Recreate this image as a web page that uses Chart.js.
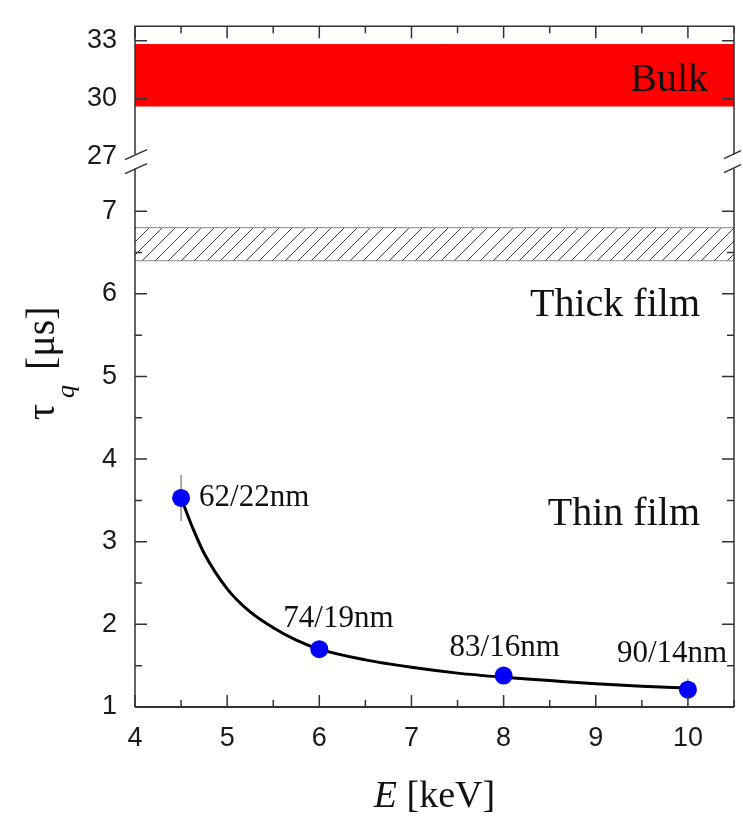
<!DOCTYPE html>
<html>
<head>
<meta charset="utf-8">
<script src="https://cdn.jsdelivr.net/npm/chart.js@4"></script>
<style>
  html, body { margin: 0; padding: 0; background: #fff; }
  #wrap { width: 743px; height: 816px; }
</style>
</head>
<body>
<div id="wrap"><canvas id="chart"></canvas></div>
<script>
// measured points (E in keV, tau_q in us)
var energy = [4.5, 6, 8, 10];
var tau = [3.53, 1.70, 1.38, 1.21];
var tauErr = [0.28, 0.04, 0.06, 0.13];
var depthLabels = ["62/22nm", "74/19nm", "83/16nm", "90/14nm"];

// fitted curve
var fitE = [4.5, 4.625, 4.75, 5, 5.25, 5.5, 5.75, 6, 6.5, 7, 7.5, 8, 8.5, 9, 9.5, 10];
var fitTau = [3.53, 3.17, 2.86, 2.43, 2.15, 1.96, 1.81, 1.70, 1.57, 1.48, 1.41, 1.36, 1.32, 1.28, 1.25, 1.23];

// reference bands
var bulkBand = [29.6, 32.8];
var thickBand = [6.4, 6.8];

var xTicks = [4, 5, 6, 7, 8, 9, 10];
var yLowTicks = [1, 2, 3, 4, 5, 6, 7];
var yHighTicks = [27, 30, 33];

var serif = "'Liberation Serif', 'Times New Roman', serif";
var sans = "'Liberation Sans', Arial, sans-serif";

function makeHatch() {
  var c = document.createElement("canvas");
  c.width = 13; c.height = 13;
  var g = c.getContext("2d");
  g.strokeStyle = "#444";
  g.lineWidth = 1;
  g.beginPath();
  g.moveTo(0, 13); g.lineTo(13, 0);
  g.moveTo(-2, 2); g.lineTo(2, -2);
  g.moveTo(11, 15); g.lineTo(15, 11);
  g.stroke();
  return g.createPattern(c, "repeat");
}

function pts(xs, ys) {
  return xs.map(function (v, i) { return { x: v, y: ys[i] }; });
}

function fixTicks(list) {
  return function (scale) {
    scale.ticks = list.map(function (v) { return { value: v }; });
  };
}

var errorBars = {
  id: "errorBars",
  beforeDatasetsDraw: function (chart) {
    var ctx = chart.ctx, x = chart.scales.x, y = chart.scales.y;
    ctx.save();
    ctx.strokeStyle = "#555";
    ctx.lineWidth = 1;
    energy.forEach(function (e, i) {
      var px = x.getPixelForValue(e);
      ctx.beginPath();
      ctx.moveTo(px, y.getPixelForValue(tau[i] + tauErr[i]));
      ctx.lineTo(px, y.getPixelForValue(tau[i] - tauErr[i]));
      ctx.stroke();
    });
    ctx.restore();
  }
};

var annotations = {
  id: "annotations",
  afterDatasetsDraw: function (chart) {
    var ctx = chart.ctx, x = chart.scales.x, y = chart.scales.y, y2 = chart.scales.y2;
    ctx.save();
    ctx.fillStyle = "#111";
    ctx.textBaseline = "alphabetic";

    // depth labels next to the points
    var off = [[18, 8], [-36, -22], [-54, -20], [-71, -28]];
    ctx.font = "31px " + serif;
    ctx.textAlign = "left";
    depthLabels.forEach(function (t, i) {
      ctx.fillText(t, x.getPixelForValue(energy[i]) + off[i][0], y.getPixelForValue(tau[i]) + off[i][1]);
    });

    // region names
    ctx.font = "40px " + serif;
    ctx.textAlign = "right";
    var rx = chart.chartArea.right - 34;
    ctx.fillText("Bulk", rx + 8, y2.getPixelForValue(30.4));
    ctx.fillText("Thick film", rx, y.getPixelForValue(5.73));
    ctx.fillText("Thin film", rx, y.getPixelForValue(3.2));
    ctx.restore();
  }
};

var frame = {
  id: "frame",
  afterDraw: function (chart) {
    var ctx = chart.ctx, a = chart.chartArea;
    var x = chart.scales.x, yl = chart.scales.y, yh = chart.scales.y2;
    var brk = yl.top;
    ctx.save();
    ctx.strokeStyle = "#333";
    ctx.lineWidth = 1.5;

    ctx.beginPath();
    ctx.moveTo(a.left, brk - 7); ctx.lineTo(a.left, a.top);
    ctx.lineTo(a.right, a.top); ctx.lineTo(a.right, brk - 7);
    ctx.moveTo(a.left, brk + 7); ctx.lineTo(a.left, a.bottom);
    ctx.moveTo(a.right, a.bottom); ctx.lineTo(a.right, brk + 7);
    ctx.stroke();
    ctx.lineWidth = 2;
    ctx.beginPath();
    ctx.moveTo(a.left, a.bottom); ctx.lineTo(a.right, a.bottom);
    ctx.stroke();

    // axis break marks
    ctx.lineWidth = 1.5;
    ctx.beginPath();
    [brk - 7, brk + 7].forEach(function (c) {
      ctx.moveTo(a.left - 10, c + 5); ctx.lineTo(a.left + 12, c - 5);
      ctx.moveTo(a.right - 10, c + 4); ctx.lineTo(a.right + 7, c - 4);
    });
    ctx.stroke();

    // inward ticks
    ctx.lineWidth = 1.5;
    ctx.beginPath();
    var major = 12, minor = 7;
    x.ticks.forEach(function (t) {
      [0, 0.5].forEach(function (h) {
        var v = t.value + h;
        if (v > x.max + 1e-6) return;
        var px = x.getPixelForValue(v), len = h ? minor : major;
        ctx.moveTo(px, a.bottom); ctx.lineTo(px, a.bottom - len);
        ctx.moveTo(px, a.top); ctx.lineTo(px, a.top + len);
      });
    });
    yl.ticks.forEach(function (t) {
      [0, 0.5].forEach(function (h) {
        var v = t.value + h;
        if (v > yl.max - 0.2) return;
        var py = yl.getPixelForValue(v), len = h ? minor : major;
        ctx.moveTo(a.left, py); ctx.lineTo(a.left + len, py);
        ctx.moveTo(a.right, py); ctx.lineTo(a.right - len, py);
      });
    });
    yh.ticks.forEach(function (t) {
      var py = yh.getPixelForValue(t.value);
      if (Math.abs(py - brk) < 10) return;
      ctx.moveTo(a.left, py); ctx.lineTo(a.left + major, py);
      ctx.moveTo(a.right, py); ctx.lineTo(a.right - major, py);
    });
    ctx.stroke();

    // axis titles
    ctx.fillStyle = "#111";
    ctx.textBaseline = "alphabetic";
    ctx.textAlign = "left";
    ctx.font = "italic 38px " + serif;
    var wE = ctx.measureText("E").width;
    ctx.font = "38px " + serif;
    var wRest = ctx.measureText(" [keV]").width;
    var cx = (a.left + a.right) / 2 - (wE + wRest) / 2;
    ctx.font = "italic 38px " + serif;
    ctx.fillText("E", cx, 807);
    ctx.font = "38px " + serif;
    ctx.fillText(" [keV]", cx + wE, 807);

    ctx.translate(54, 420);
    ctx.rotate(-Math.PI / 2);
    ctx.font = "40px " + serif;
    ctx.fillText("\u03c4", 0, 0);
    ctx.font = "italic 26px " + serif;
    ctx.fillText("q", 22, 20);
    ctx.font = "40px " + serif;
    ctx.fillText("[\u03bcs]", 50, 0);
    ctx.restore();
  }
};

var hatch = makeHatch();
var tickFont = { family: sans, size: 27 };

new Chart(document.getElementById("chart"), {
  type: "scatter",
  data: {
    datasets: [
      {
        label: "tau_q",
        data: pts(energy, tau),
        yAxisID: "y",
        pointRadius: 9,
        pointHoverRadius: 9,
        backgroundColor: "#0000ff",
        borderColor: "#0000ff",
        borderWidth: 0,
        order: 0
      },
      {
        label: "fit",
        data: pts(fitE, fitTau),
        yAxisID: "y",
        showLine: true,
        pointRadius: 0,
        borderColor: "#000",
        borderWidth: 3,
        cubicInterpolationMode: "monotone",
        order: 1
      },
      {
        label: "thick top",
        data: [{ x: 4, y: thickBand[1] }, { x: 10.5, y: thickBand[1] }],
        yAxisID: "y",
        showLine: true,
        pointRadius: 0,
        borderColor: "#888",
        borderWidth: 1,
        backgroundColor: hatch,
        fill: "+1",
        order: 2
      },
      {
        label: "thick bottom",
        data: [{ x: 4, y: thickBand[0] }, { x: 10.5, y: thickBand[0] }],
        yAxisID: "y",
        showLine: true,
        pointRadius: 0,
        borderColor: "#888",
        borderWidth: 1,
        fill: false,
        order: 3
      },
      {
        label: "bulk",
        data: [{ x: 4, y: bulkBand[1] }, { x: 10.5, y: bulkBand[1] }],
        yAxisID: "y2",
        showLine: true,
        pointRadius: 0,
        borderColor: "#ff0000",
        borderWidth: 1,
        backgroundColor: "#ff0000",
        fill: { value: bulkBand[0] },
        order: 4
      }
    ]
  },
  options: {
    responsive: true,
    maintainAspectRatio: false,
    animation: false,
    layout: { padding: { top: 5, right: 6, left: 0, bottom: 0 } },
    plugins: {
      legend: { display: false },
      tooltip: { enabled: false }
    },
    scales: {
      x: {
        type: "linear",
        min: 4,
        max: 10.5,
        afterBuildTicks: fixTicks(xTicks),
        afterFit: function (s) { s.height = 109; },
        grid: { display: false },
        border: { display: false },
        ticks: { font: tickFont, color: "#1a1a1a", padding: 7, maxRotation: 0 }
      },
      y: {
        type: "linear",
        position: "left",
        stack: "tau",
        stackWeight: 564,
        min: 1,
        max: 7.6,
        afterBuildTicks: fixTicks(yLowTicks),
        afterFit: function (s) { s.width = 135; },
        grid: { display: false },
        border: { display: false },
        ticks: { font: tickFont, color: "#1a1a1a", padding: 10 }
      },
      y2: {
        type: "linear",
        position: "left",
        stack: "tau",
        stackWeight: 140,
        min: 26.75,
        max: 33.75,
        afterBuildTicks: fixTicks(yHighTicks),
        afterFit: function (s) { s.width = 135; },
        grid: { display: false },
        border: { display: false },
        ticks: { font: tickFont, color: "#1a1a1a", padding: 10 }
      }
    }
  },
  plugins: [errorBars, annotations, frame]
});
</script>
</body>
</html>
